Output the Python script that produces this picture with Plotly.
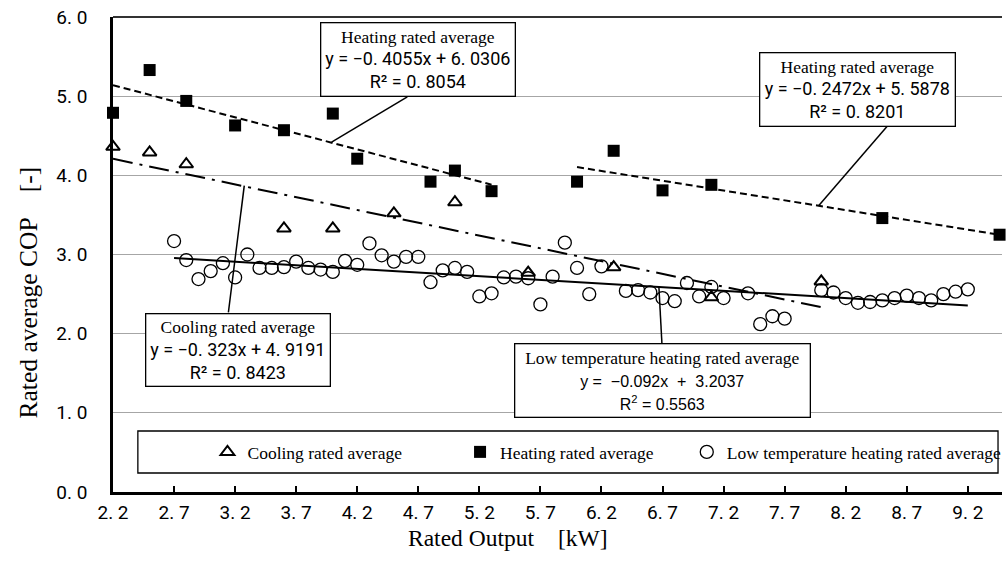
import numpy as np
import plotly.graph_objects as go

# ---------------- data ----------------
cool_x = [2.2, 2.5, 2.8, 3.6, 4.0, 4.5, 5.0, 5.6, 6.3, 7.1, 8.0]
cool_y = [4.36, 4.29, 4.14, 3.33, 3.33, 3.52, 3.66, 2.77, 2.84, 2.46, 2.66]

heat_x = [2.2, 2.5, 2.8, 3.2, 3.6, 4.0, 4.2, 4.8, 5.0, 5.3, 6.0, 6.3, 6.7, 7.1, 8.5, 9.46]
heat_y = [4.79, 5.33, 4.94, 4.63, 4.57, 4.78, 4.21, 3.92, 4.06, 3.80, 3.92, 4.31, 3.81, 3.88, 3.46, 3.25]

low_x = [2.7, 2.8, 2.9, 3.0, 3.1, 3.2, 3.3, 3.4, 3.5, 3.6, 3.7, 3.8, 3.9,
         4.0, 4.1, 4.2, 4.3, 4.4, 4.5, 4.6, 4.7, 4.8, 4.9, 5.0, 5.1, 5.2, 5.3,
         5.4, 5.5, 5.6, 5.7, 5.8, 5.9, 6.0, 6.1, 6.2, 6.4, 6.5, 6.6, 6.7, 6.8,
         6.9, 7.0, 7.1, 7.2, 7.4, 7.5, 7.6, 7.7, 8.0, 8.1, 8.2, 8.3, 8.4, 8.5,
         8.6, 8.7, 8.8, 8.9, 9.0, 9.1, 9.2]
low_y = [3.17, 2.93, 2.69, 2.79, 2.89, 2.71, 3.00, 2.83, 2.83, 2.84, 2.91, 2.83, 2.81,
         2.78, 2.92, 2.87, 3.14, 2.99, 2.91, 2.97, 2.97, 2.65, 2.80, 2.83, 2.78, 2.47, 2.51,
         2.71, 2.72, 2.70, 2.37, 2.72, 3.15, 2.83, 2.50, 2.85, 2.54, 2.55, 2.52, 2.45, 2.41,
         2.64, 2.47, 2.59, 2.45, 2.51, 2.12, 2.22, 2.19, 2.55, 2.52, 2.45, 2.39, 2.40, 2.42,
         2.45, 2.48, 2.45, 2.42, 2.50, 2.53, 2.56]

# trend lines: (slope, intercept, x start, x end)
trend_heat1 = (-0.4055, 6.0306, 2.2, 5.3)
trend_heat2 = (-0.2472, 5.5878, 6.0, 9.48)
trend_cool = (-0.323, 4.9191, 2.2, 8.0)
trend_low = (-0.092, 3.2037, 2.7, 9.2)

x_tickvals = [2.2, 2.7, 3.2, 3.7, 4.2, 4.7, 5.2, 5.7, 6.2, 6.7, 7.2, 7.7, 8.2, 8.7, 9.2]
x_ticktext = ["2. 2", "2. 7", "3. 2", "3. 7", "4. 2", "4. 7", "5. 2", "5. 7",
              "6. 2", "6. 7", "7. 2", "7. 7", "8. 2", "8. 7", "9. 2"]
y_tickvals = [0, 1, 2, 3, 4, 5, 6]
y_ticktext = ["0. 0", "1. 0", "2. 0", "3. 0", "4. 0", "5. 0", "6. 0"]

SERIF = "Liberation Serif"
GOTH = "Roboto"

fig = go.Figure()


def trend(t, dash, name):
    a, b, x0, x1 = t
    xs = np.array([x0, x1])
    fig.add_trace(go.Scatter(x=xs, y=a * xs + b, mode="lines", showlegend=False,
                             line=dict(color="black", width=2, dash=dash),
                             hoverinfo="skip", name=name))


trend(trend_heat1, "7px,4px", "heat1")
trend(trend_heat2, "7px,4px", "heat2")
trend(trend_cool, "20px,7px,3px,7px", "cool")
trend(trend_low, "solid", "low")

fig.add_trace(go.Scatter(x=low_x, y=low_y, mode="markers", name="Low temperature heating rated average",
                         marker=dict(symbol="circle-open", size=13, color="black", line=dict(width=1.3)),
                         legend="legend3", cliponaxis=False))
fig.add_trace(go.Scatter(x=cool_x, y=cool_y, mode="markers", name="Cooling rated average",
                         marker=dict(symbol="triangle-up-open", size=12, color="black", line=dict(width=2)),
                         legend="legend", cliponaxis=False))
fig.add_trace(go.Scatter(x=heat_x, y=heat_y, mode="markers", name="Heating rated average",
                         marker=dict(symbol="square", size=12, color="black"),
                         legend="legend2", cliponaxis=False))


def gspan(s):
    return "<span style='font-family:%s;font-size:18px'>%s</span>" % (GOTH, s)


def aspan(s):
    return "<span style='font-family:Liberation Sans;font-size:16px'>%s</span>" % s


boxes = [
    dict(x=4.696, y=5.46, w=195, h=74,
         text="Heating rated average<br>" + gspan("y = −0. 4055x + 6. 0306") + "<br>" + gspan("R² = 0. 8054")),
    dict(x=8.30, y=5.09, w=196, h=74,
         text="Heating rated average<br>" + gspan("y = −0. 2472x + 5. 5878") + "<br>" + gspan("R² = 0. 8201")),
    dict(x=3.22, y=1.80, w=185, h=73,
         text="Cooling rated average<br>" + gspan("y = −0. 323x + 4. 9191") + "<br>" + gspan("R² = 0. 8423")),
    dict(x=6.703, y=1.413, w=296, h=74,
         text="Low temperature heating rated average<br>"
              + aspan("y =  −0.092x  +  3.2037") + "<br>"
              + aspan("R<sup>2</sup> = 0.5563")),
]

leaders = [
    (3.99, 4.42, 4.61, 4.99),
    (7.98, 3.62, 8.54, 4.62),
    (3.275, 3.87, 3.145, 2.27),
    (6.67, 2.60, 6.695, 1.88),
]

shapes = []
for (x0, y0, x1, y1) in leaders:
    shapes.append(dict(type="line", xref="x", yref="y", x0=x0, y0=y0, x1=x1, y1=y1,
                       line=dict(color="black", width=1.5), layer="above"))
# top border
shapes.append(dict(type="line", xref="paper", yref="paper", x0=0, x1=1, y0=1, y1=1,
                   line=dict(color="#333333", width=2)))
# legend box
shapes.append(dict(type="rect", xref="paper", yref="paper",
                   x0=(138 - 113) / 894, x1=(1003 - 113) / 894,
                   y0=(492 - 473) / 475, y1=(492 - 431) / 475,
                   line=dict(color="black", width=1.3), fillcolor="white", layer="above"))

annotations = []
for b in boxes:
    annotations.append(dict(x=b["x"], y=b["y"], xref="x", yref="y", text=b["text"], showarrow=False,
                            width=b["w"] - 2, height=b["h"] - 2, align="center", valign="middle",
                            bgcolor="white", bordercolor="black", borderwidth=1.3, borderpad=0,
                            font=dict(family=SERIF, size=17.5, color="black")))

annotations.append(dict(text="Rated average COP　[-]", textangle=-90, xref="paper", yref="paper",
                        x=(28 - 113) / 894, y=(492 - 292) / 475, xanchor="center", yanchor="middle",
                        showarrow=False, font=dict(family=SERIF, size=25.5, color="black")))
annotations.append(dict(text="Rated Output　[kW]", xref="paper", yref="paper",
                        x=(510 - 113) / 894, y=(492 - 538) / 475, xanchor="center", yanchor="middle",
                        showarrow=False, font=dict(family=SERIF, size=23.5, color="black")))

legend_common = dict(orientation="h", xanchor="left", yanchor="middle", bgcolor="rgba(0,0,0,0)",
                     borderwidth=0, font=dict(family=SERIF, size=17.5, color="black"))
ly = (492 - 452) / 475

fig.update_layout(
    width=1007, height=561,
    margin=dict(l=113, r=0, t=17, b=69),
    paper_bgcolor="white", plot_bgcolor="white",
    shapes=shapes, annotations=annotations,
    showlegend=True,
    legend=dict(x=(208 - 113) / 894, y=ly, **legend_common),
    legend2=dict(x=(462 - 113) / 894, y=ly, **legend_common),
    legend3=dict(x=(690 - 113) / 894, y=ly, **legend_common),
    xaxis=dict(range=[2.2, 9.48], tickvals=x_tickvals, ticktext=x_ticktext,
               showgrid=False, zeroline=False, showline=True, linecolor="black", linewidth=2.5,
               ticks="inside", ticklen=6, tickwidth=2, tickcolor="black",
               ticklabelstandoff=1,
               tickfont=dict(family=GOTH, size=19, color="black")),
    yaxis=dict(range=[0, 6], tickvals=y_tickvals, ticktext=y_ticktext,
               showgrid=True, gridcolor="#a6a6a6", gridwidth=1.3, zeroline=False,
               showline=True, linecolor="black", linewidth=2.5, ticks="",
               ticklabelstandoff=19,
               tickfont=dict(family=GOTH, size=19, color="black")),
)

fig.write_html("out.html")
